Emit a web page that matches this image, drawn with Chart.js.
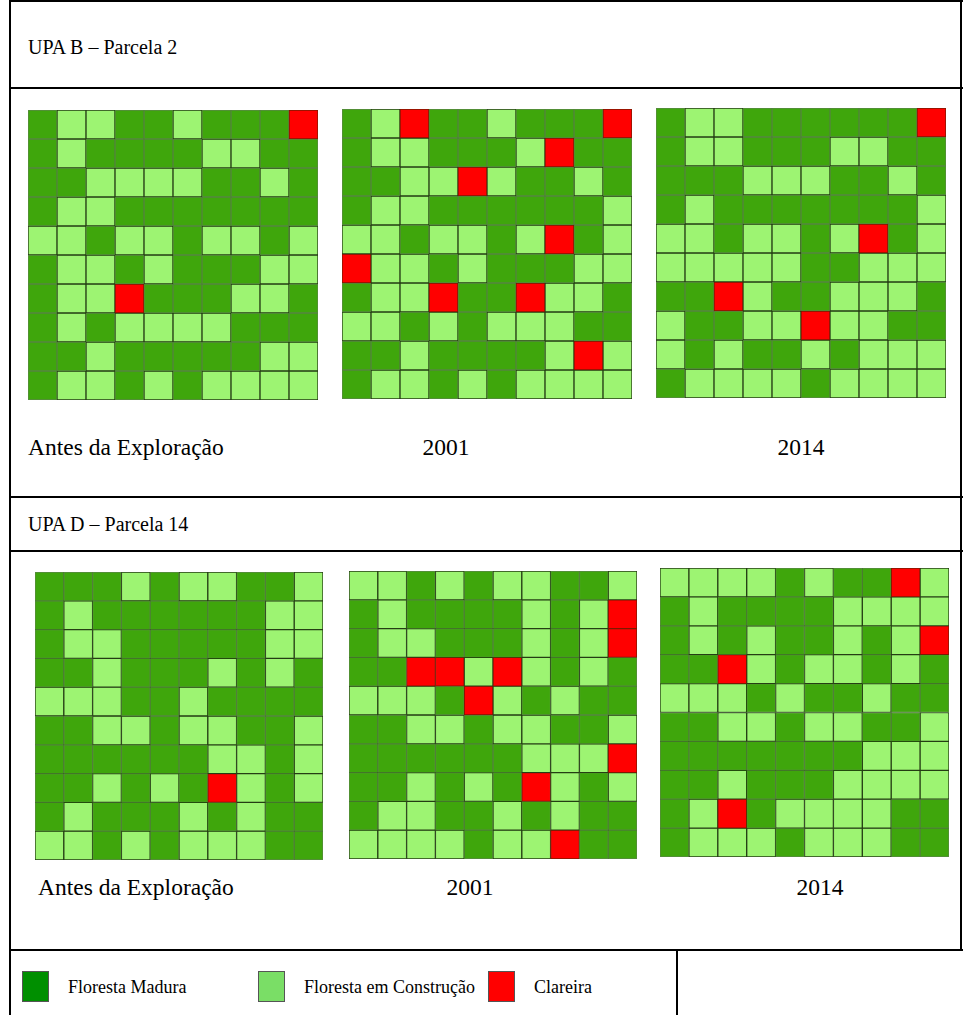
<!DOCTYPE html>
<html>
<head>
<meta charset="utf-8">
<script src="https://cdn.jsdelivr.net/npm/chart.js@4.4.1/dist/chart.umd.min.js"></script>
<style>
  html, body { margin:0; padding:0; background:#fff; }
  body { width:963px; height:1015px; position:relative; overflow:hidden; font-family:"Liberation Serif","DejaVu Serif",serif; color:#000; }
  .ln { position:absolute; background:#000; }
  .ttl { position:absolute; font-size:20px; line-height:22px; white-space:nowrap; }
  .txt { position:absolute; font-size:23.5px; line-height:26px; white-space:nowrap; }
  .ctr { transform:translateX(-50%); }
  canvas { position:absolute; }
  .leg { position:absolute; font-size:18px; line-height:20px; white-space:nowrap; }
  .sw { position:absolute; width:27px; height:31px; border:1px solid #555; box-sizing:border-box; }
</style>
</head>
<body>
<div class="ln" style="left:9px;top:0;width:954px;height:2px"></div>
<div class="ln" style="left:9px;top:0;width:2px;height:1015px"></div>
<div class="ln" style="left:960px;top:0;width:2px;height:951px"></div>
<div class="ln" style="left:9px;top:87px;width:954px;height:2px"></div>
<div class="ln" style="left:9px;top:496px;width:954px;height:2px"></div>
<div class="ln" style="left:9px;top:550px;width:954px;height:2px"></div>
<div class="ln" style="left:9px;top:949px;width:954px;height:2px"></div>
<div class="ln" style="left:676px;top:949px;width:2px;height:66px"></div>

<div class="ttl" style="left:28px;top:36px">UPA B – Parcela 2</div>
<div class="txt" style="left:28px;top:434px">Antes da Exploração</div>
<div class="txt ctr" style="left:446px;top:434px">2001</div>
<div class="txt ctr" style="left:801px;top:434px">2014</div>
<div class="ttl" style="left:28px;top:513px">UPA D – Parcela 14</div>
<div class="txt" style="left:38px;top:874px">Antes da Exploração</div>
<div class="txt ctr" style="left:470px;top:874px">2001</div>
<div class="txt ctr" style="left:820px;top:874px">2014</div>

<canvas id="g1" width="290" height="290" style="left:28px;top:110px"></canvas>
<canvas id="g2" width="290" height="290" style="left:342px;top:109px"></canvas>
<canvas id="g3" width="290" height="290" style="left:656px;top:108px"></canvas>
<canvas id="g4" width="288" height="288" style="left:35px;top:572px"></canvas>
<canvas id="g5" width="288" height="288" style="left:349px;top:571px"></canvas>
<canvas id="g6" width="289" height="289" style="left:660px;top:568px"></canvas>

<div id="legend"></div>

<script>
// Legend categories
const categories = ["Floresta Madura", "Floresta em Construção", "Clareira"];
const categoryCodes = ["M", "C", "R"];
// Column labels of each 10x10 plot grid
const columns = ["1","2","3","4","5","6","7","8","9","10"];

// Cell classes, row by row (top to bottom): M = Floresta Madura, C = Floresta em Construção, R = Clareira
const upaB_antes = [
  "MCCMMCMMMR",
  "MCMMMMCCMM",
  "MMCCCCMMCM",
  "MCCMMMMMMM",
  "CCMCCMCCMC",
  "MCCMCMMMCC",
  "MCCRMMMCCM",
  "MCMCCCCMMM",
  "MMCMMMMMCC",
  "MCCMCMCCCC"
];
const upaB_2001 = [
  "MCRMMCMMMR",
  "MCCMMMCRMM",
  "MMCCRCMMCM",
  "MCCMMMMMMC",
  "CCMCCMCRMC",
  "RCCMCMMMCC",
  "MCCRMMRCCM",
  "CCMCMCCCMM",
  "MMCMMMMCRC",
  "MCCMCMCCCC"
];
const upaB_2014 = [
  "MCCMMMMMMR",
  "MCCMMMCCMM",
  "MMMCCCMMCM",
  "MCMMMMMMMC",
  "CCMCCMCRMC",
  "CCCCCMMCCC",
  "MMRCMMCCCM",
  "CMMCCRCCMM",
  "CMCMMCMCCC",
  "MCCCCMCCCC"
];
const upaD_antes = [
  "MMMCMCCMMC",
  "MCMMMMMMCC",
  "MCCMMMMMCC",
  "MMCMMMCMCM",
  "CCCMMCMMMM",
  "MMCCMCCMMC",
  "MMMMMMCCMC",
  "MMCMCMRCMC",
  "MCMMMCMCMM",
  "CCMCMCCCMM"
];
const upaD_2001 = [
  "CCMCMCCMMC",
  "MCMMMMCMCR",
  "MCCMMMCMCR",
  "MMRRCRCMCM",
  "CCCMRCMCMM",
  "MMCCMCCMMC",
  "MMMMMMCCCR",
  "MMCMCMRCMC",
  "MCCMMCMCMM",
  "CCCCMCCRMM"
];
const upaD_2014 = [
  "CCCCMCMMRC",
  "MCMMMMCCCC",
  "MCMCMMCMCR",
  "MMRCMCCMCM",
  "CCCMCMMCMM",
  "MMCCMCCMMC",
  "MMMMMMMCCC",
  "MMCMMMCCCC",
  "MCRMCCCCMM",
  "MCCCMCCCMM"
];

const cellFill   = { M: "#3fa60c", C: "#9df472", R: "#ff0000" };
const cellBorder = { M: "rgba(35,95,5,0.75)", C: "#253d14", R: "#7a1a00" };
const legendFill = { M: "#008f00", C: "#7ade66", R: "#ff0000" };

function drawGrid(id, rows) {
  const datasets = rows.map(function (row) {
    const codes = row.split("");
    return {
      data: codes.map(function () { return 1; }),
      backgroundColor: codes.map(function (c) { return cellFill[c]; }),
      borderColor: codes.map(function (c) { return cellBorder[c]; }),
      borderWidth: 1,
      borderSkipped: false,
      barPercentage: 1,
      categoryPercentage: 1
    };
  });
  new Chart(document.getElementById(id), {
    type: "bar",
    data: { labels: columns, datasets: datasets },
    options: {
      responsive: false,
      animation: false,
      devicePixelRatio: 1,
      layout: { padding: 0 },
      plugins: { legend: { display: false }, tooltip: { enabled: false } },
      scales: {
        x: { stacked: true, display: false, grid: { display: false } },
        y: { stacked: true, display: false, reverse: true, min: 0, max: rows.length, grid: { display: false } }
      }
    }
  });
}

drawGrid("g1", upaB_antes);
drawGrid("g2", upaB_2001);
drawGrid("g3", upaB_2014);
drawGrid("g4", upaD_antes);
drawGrid("g5", upaD_2001);
drawGrid("g6", upaD_2014);

// Legend (HTML)
const legendX = [22, 258, 488];
const legend = document.getElementById("legend");
categories.forEach(function (name, i) {
  const sw = document.createElement("div");
  sw.className = "sw";
  sw.style.left = legendX[i] + "px";
  sw.style.top = "971px";
  sw.style.background = legendFill[categoryCodes[i]];
  legend.appendChild(sw);
  const t = document.createElement("div");
  t.className = "leg";
  t.style.left = (legendX[i] + 46) + "px";
  t.style.top = "977px";
  t.textContent = name;
  legend.appendChild(t);
});
</script>
</body>
</html>
